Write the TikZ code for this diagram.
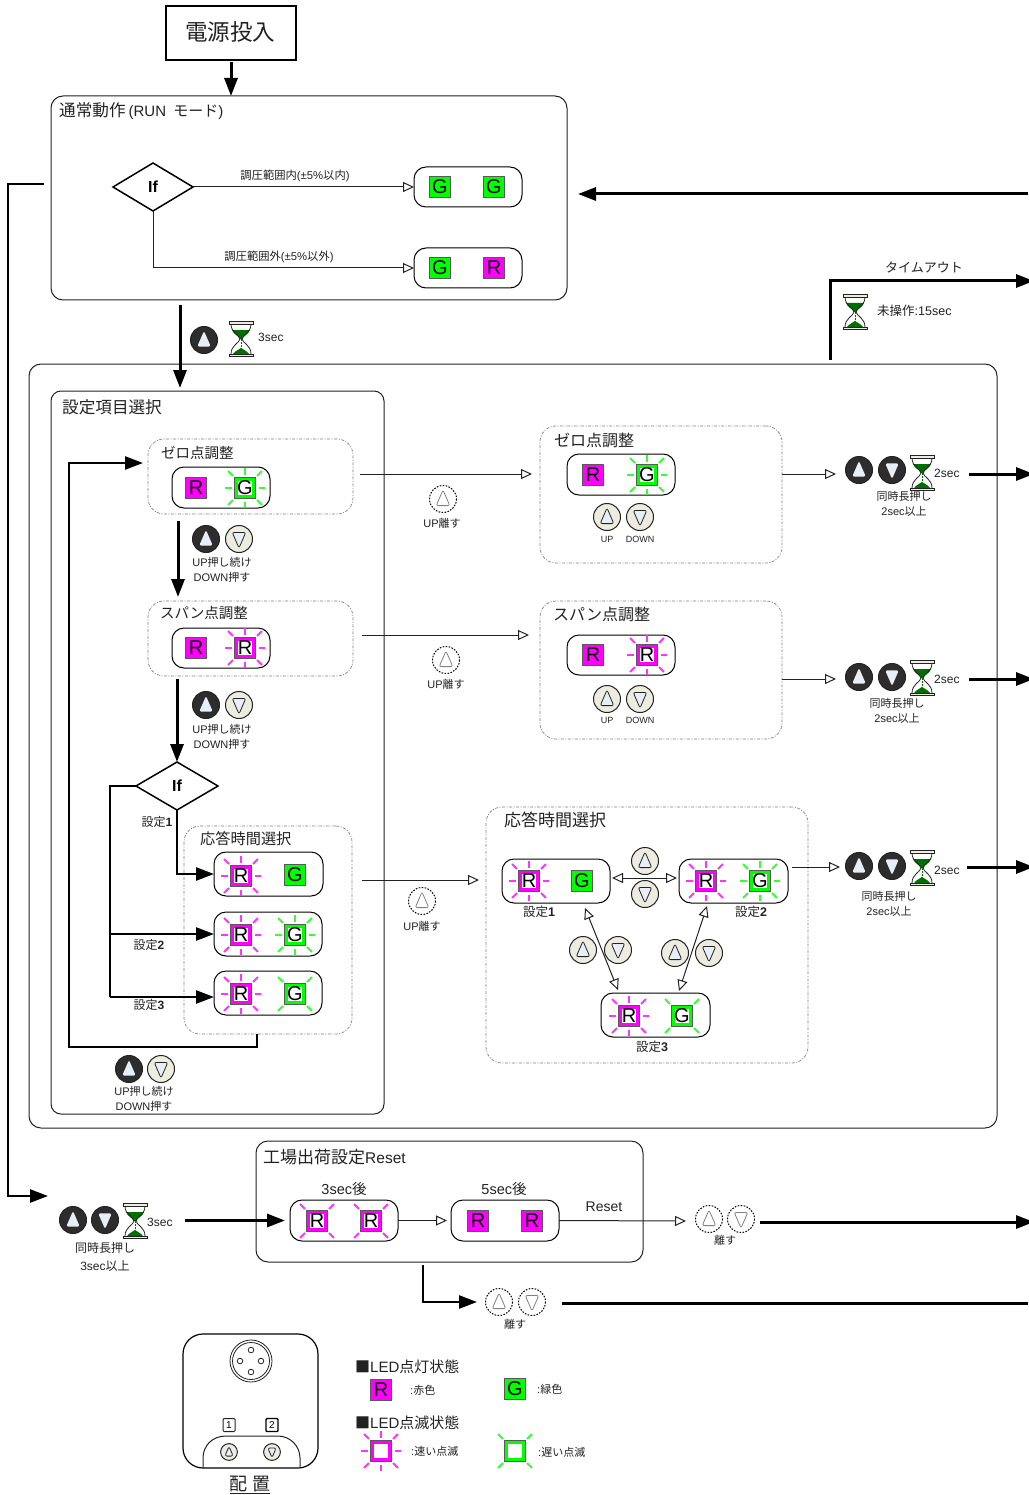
\documentclass[tikz,border=0pt]{standalone}
\usepackage{fontspec}
\setmainfont{Liberation Sans}
\newfontfamily\cjk{Noto Sans CJK JP}
\usetikzlibrary{arrows.meta,shapes.geometric,calc}
\definecolor{ledR}{HTML}{FF00FF}
\definecolor{ledG}{HTML}{00FF00}
\definecolor{rayR}{HTML}{FF33FF}
\definecolor{rayG}{HTML}{33FF33}
\definecolor{ink}{HTML}{222222}
\definecolor{hgreen}{HTML}{006E00}
\definecolor{capc}{HTML}{E8EDF6}
\definecolor{lightc}{HTML}{ECECE0}
\newcommand\J[1]{{\cjk #1}}
\newcommand\fs[1]{\fontsize{#1}{#1}\selectfont}
\tikzset{
 bigarr/.style={line width=3pt,draw=black,-{Triangle[length=18pt,width=13pt]}},
 midarr/.style={line width=2.5pt,draw=black,-{Triangle[length=18pt,width=13pt]}},
 bigline/.style={line width=3pt,draw=black},
 openarr/.style={line width=1pt,draw=ink,-{Triangle[open,fill=white,length=11pt,width=10pt]}},
 openboth/.style={line width=1pt,draw=ink,{Triangle[open,fill=white,length=11pt,width=10pt]}-{Triangle[open,fill=white,length=11pt,width=10pt]}},
 frame/.style={draw=ink,line width=1pt,rounded corners=12pt,inner sep=0pt,outer sep=0pt},
 dbox/.style={draw=gray,line width=.7pt,dash pattern=on 3pt off 1.5pt on 1pt off 1.5pt,rounded corners=16pt,inner sep=0pt,outer sep=0pt},
 panel/.style={draw=black,line width=1pt,rounded corners=12pt,inner sep=0pt,outer sep=0pt},
 hdr/.style={inner sep=0pt,anchor=west,text=ink,font=\fs{15}},
 sub/.style={inner sep=0pt,anchor=west,text=ink,font=\fs{14.5}},
 lab/.style={inner sep=0pt,text=ink,font=\fontsize{11}{15}\selectfont,align=center},
 tiny/.style={inner sep=0pt,text=ink,font=\fs{9}},
 dia/.style={diamond,draw=black,line width=1.5pt,inner sep=0pt,outer sep=0pt,aspect=1.67,font=\bfseries\fs{16}},
 btnd/.style={draw=ink,fill=ink!95,line width=1pt},
 btnl/.style={draw=ink,fill=lightc,line width=1pt},
 btng/.style={draw=black,fill=white,line width=1pt,dash pattern=on 1.6pt off 1.4pt},
 tri/.style={draw=none,fill=capc,rounded corners=2.2pt},
 tril/.style={draw=ink,fill=capc,line width=.8pt,rounded corners=2.2pt},
 trig/.style={draw=gray,fill=white,line width=.8pt,rounded corners=2.2pt},
 ledlet/.style={inner sep=0pt,text=black,font=\fs{20}},
}
\newcount\ledn
\newcommand\btn[5]{% x,y,circle style,tri style,dir (1 up, -1 down)
 \begin{scope}[shift={(#1,#2)}]
 \draw[#3] (0,0) circle (13.5);
 \path[#4] (0,-9*#5) -- (6.8,6.6*#5) -- (-6.8,6.6*#5) -- cycle;
 \end{scope}}
\newcommand\upd[2]{\btn{#1}{#2}{btnd}{tri}{1}}
\newcommand\dnd[2]{\btn{#1}{#2}{btnd}{tri}{-1}}
\newcommand\upl[2]{\btn{#1}{#2}{btnl}{tril}{1}}
\newcommand\dnl[2]{\btn{#1}{#2}{btnl}{tril}{-1}}
\newcommand\upg[2]{\btn{#1}{#2}{btng}{trig}{1}}
\newcommand\dng[2]{\btn{#1}{#2}{btng}{trig}{-1}}
\newcommand\hg[2]{%
 \begin{scope}[shift={(#1,#2)}]
 \fill[hgreen] (-9,-9) -- (9,-9) .. controls (8,-5) and (2,-3) .. (1,0) -- (-1,0) .. controls (-2,-3) and (-8,-5) .. (-9,-9) -- cycle;
 \fill[hgreen] (-8,15) .. controls (-5,11) and (-1,10.5) .. (0,8.5) .. controls (1,10.5) and (5,11) .. (8,15) -- cycle;
 \draw[ink,line width=.8pt,fill=none] (-10,-15) .. controls (-10,-6) and (-1.5,-4) .. (-1,0) .. controls (-1.5,4) and (-10,6) .. (-10,15);
 \draw[ink,line width=.8pt] (10,-15) .. controls (10,-6) and (1.5,-4) .. (1,0) .. controls (1.5,4) and (10,6) .. (10,15);
 \draw[hgreen,line width=1pt,dash pattern=on 1.5pt off 1.5pt] (0,0) -- (0,9);
 \draw[ink,fill=lightc,line width=.7pt] (-12,-17.5) rectangle (12,-15);
 \draw[ink,fill=lightc,line width=.7pt] (-12,15) rectangle (12,17.5);
 \end{scope}}
\newcommand\raysortho[1]{\foreach \a in {0,90,180,270} \draw[#1,line width=2pt] (\a:13.5) -- (\a:20);}
\newcommand\raysdiag[1]{\foreach \a in {45,135,225,315} \draw[#1,line width=2pt] (\a:17) -- (\a:24);}
\newcommand\ledS[4]{% x,y,colour,letter : steady
 \global\advance\ledn 1
 \begin{scope}[shift={(#1,#2)}]
 \draw[draw=ink!75,fill=#3,line width=1.4pt] (-10.5,-10.5) rectangle (10.5,10.5);
 \end{scope}
 \node[ledlet] (led\the\ledn) at (#1,#2) {#4};}
\newcommand\ledC[4]{% x,y,colour,letter : frame with white centre
 \global\advance\ledn 1
 \begin{scope}[shift={(#1,#2)}]
 \draw[draw=ink!75,fill=#3,line width=1.4pt] (-10.5,-10.5) rectangle (10.5,10.5);
 \fill[white] (-7,-7) rectangle (7,7);
 \end{scope}
 \node[ledlet] (led\the\ledn) at (#1,#2) {#4};}
\newcommand\ledF[5]{% fast: x,y,colour,raycolour,letter
 \begin{scope}[shift={(#1,#2)}]\raysortho{#4}\raysdiag{#4}\end{scope}
 \ledC{#1}{#2}{#3}{#5}}
\newcommand\ledL[5]{% slow
 \begin{scope}[shift={(#1,#2)}]\raysdiag{#4}\end{scope}
 \ledC{#1}{#2}{#3}{#5}}
\newcommand\bx[6]{%
 \pgfmathsetmacro\cxx{(#3+#5)/2}\pgfmathsetmacro\cyy{(#4+#6)/2}%
 \pgfmathsetmacro\www{#5-#3}\pgfmathsetmacro\hhh{#6-#4}%
 \node[#1,minimum width=\www pt,minimum height=\hhh pt] (#2) at (\cxx,\cyy) {};}
\begin{document}
\begin{tikzpicture}[x=1pt,y=-1pt]
\useasboundingbox (0,0) rectangle (1028,1495);
% ---------- power on
\bx{draw=black,line width=1.6pt,inner sep=0pt,outer sep=0pt}{pwr}{166}{6}{296}{60}
\node[inner sep=0pt,text=ink,font=\fs{22.5}] (pwrt) at (230,32) {\J{電源投入}};
% ---------- RUN
\bx{frame}{run}{51}{96}{567}{300}
\node[hdr,font=\fs{15}] (runt) at (59,111) {\fs{16.6}\J{通常動作}\hspace{3pt}\fs{15}(RUN\hspace{3pt} \J{モード})};
\draw[bigarr] (pwr.south) ++(0,2) -- (pwr.south |- run.north);
\node[dia,minimum width=80pt,minimum height=48pt] (if1) at (153,187) {If};
\bx{panel}{p1}{414}{167}{522}{207}
\bx{panel}{p2}{414}{248}{522}{288}
\ledS{440}{187}{ledG}{G}\ledS{494}{187}{ledG}{G}
\ledS{440}{268}{ledG}{G}\ledS{494}{268}{ledR}{R}
\draw[openarr] (if1.east) -- (p1.west);
\draw[openarr] (if1.south) -- (if1.south |- p2.west) -- (p2.west);
\node[lab,font=\fs{11.3}] (l1) at (295,176) {\J{調圧範囲内}(±5\%\J{以内})};
\node[lab,font=\fs{11.3}] (l2) at (279,257) {\J{調圧範囲外}(±5\%\J{以外})};
% factory feed line
\coordinate (la) at (44,184); \coordinate (lb) at (8,184); \coordinate (lc) at (8,1196); \coordinate (ld) at (48,1196);
\draw[midarr] (la) -- (lb) -- (lc) -- (ld);
% return arrow
\coordinate (ra) at (1028,194); \coordinate (rb) at (578,194);
\draw[bigarr] (ra) -- (rb);
% ---------- main box
\bx{frame}{main}{29}{364}{997}{1128}
\coordinate (ma) at (180,305); \coordinate (mb) at (180,388);
\draw[bigarr] (ma) -- (mb);
\upd{204}{340}\hg{241}{339}
\node[lab,anchor=west,font=\fs{12}] (t3) at (258,337) {3sec};
% timeout
\coordinate (ta) at (830,360); \coordinate (tb) at (830,281); \coordinate (tc) at (1034,281);
\draw[bigarr] (ta) -- (tb) -- (tc);
\node[inner sep=0pt,text=ink,font=\fs{13}] (tt) at (924,267) {\J{タイムアウト}};
\hg{855}{312}
\node[lab,anchor=west,font=\fs{12.5}] (tu) at (877,311) {\J{未操作}:15sec};
% ---------- left column
\bx{frame,rounded corners=10pt}{sel}{51}{391}{384}{1114}
\node[hdr,font=\fs{16.6}] (selt) at (62,407) {\J{設定項目選択}};
\bx{dbox}{z1}{148}{439}{353}{514}
\node[sub] (z1t) at (161,453) {\J{ゼロ点調整}};
\bx{panel}{z1p}{172}{467}{270}{508}
\ledS{196}{488}{ledR}{R}\ledF{245}{488}{ledG}{rayG}{G}
\coordinate (a1) at (178,521); \coordinate (a2) at (178,597);
\draw[bigarr] (a1) -- (a2);
\upd{206}{539}\dnl{239}{539}
\node[lab] (z1k) at (222,570) {UP\J{押し続け}\\DOWN\J{押す}};
\bx{dbox}{s1}{148}{601}{353}{676}
\node[sub] (s1t) at (160,613) {\J{スパン点調整}};
\bx{panel}{s1p}{172}{628}{270}{668}
\ledS{196}{648}{ledR}{R}\ledF{245}{648}{ledR}{rayR}{R}
\coordinate (a3) at (177,679);
\node[dia,minimum width=82pt,minimum height=48pt] (if2) at (177,786) {If};
\draw[bigarr] (a3) -- (a3 |- if2.north);
\upd{206}{705}\dnl{239}{705}
\node[lab] (s1k) at (222,737) {UP\J{押し続け}\\DOWN\J{押す}};
\bx{dbox}{rt}{184}{826}{352}{1034}
\node[sub,font=\fs{15.2}] (rtt) at (200,839) {\J{応答時間選択}};
\bx{panel}{r1}{214}{852}{323}{896}
\bx{panel}{r2}{214}{912}{322}{956}
\bx{panel}{r3}{214}{971}{322}{1015}
\ledF{241}{876}{ledR}{rayR}{R}\ledS{295}{875}{ledG}{G}
\ledF{241}{935}{ledR}{rayR}{R}\ledF{295}{935}{ledG}{rayG}{G}
\ledF{241}{994}{ledR}{rayR}{R}\ledL{295}{994}{ledG}{rayG}{G}
\coordinate (b2) at (110,934); \coordinate (b3) at (110,997);
\draw[midarr,-] (if2.west) -- (if2.west -| b3) -- (b3);
\draw[midarr] (b3) -- (b3 -| r3.west);
\draw[midarr] (b2) -- (b2 -| r2.west);
\draw[midarr] (if2.south) -- (if2.south |- r1.west) -- (r1.west);
\node[lab,font=\fs{12}] (c1) at (157,822) {\J{設定}\textbf{1}};
\node[lab,font=\fs{12}] (c2) at (149,945) {\J{設定}\textbf{2}};
\node[lab,font=\fs{12}] (c3) at (149,1005) {\J{設定}\textbf{3}};
\coordinate (d1) at (257,1034); \coordinate (d2) at (257,1047); \coordinate (d3) at (69,1047); \coordinate (d4) at (69,463); \coordinate (d5) at (143,463);
\draw[midarr] (d1) -- (d2) -- (d3) -- (d4) -- (d5);
\upd{129}{1069}\dnl{161}{1069}
\node[lab] (rtk) at (144,1099) {UP\J{押し続け}\\DOWN\J{押す}};
% ---------- zero detail
\bx{dbox}{z2}{540}{426}{782}{563}
\node[sub,font=\fs{16}] (z2t) at (554,440) {\J{ゼロ点調整}};
\bx{panel}{z2p}{567}{454}{675}{495}
\ledS{593}{475}{ledR}{R}\ledF{647}{475}{ledG}{rayG}{G}
\upl{607}{517}\dnl{640}{517}
\node[tiny] (z2u) at (607,539) {UP};\node[tiny] (z2d) at (640,539) {DOWN};
\coordinate (e1) at (360,474); \coordinate (e2) at (532,474);
\draw[openarr] (e1) -- (e2);
\upg{443}{499}\node[lab] (e3) at (442,523) {UP\J{離す}};
\coordinate (e4) at (782,474); \coordinate (e5) at (836,474);
\draw[openarr] (e4) -- (e5);
\upd{859}{470}\dnd{892}{470}\hg{922}{473}
\node[lab,anchor=west,font=\fs{12}] (e6) at (934,473) {2sec};
\node[lab] (e7) at (904,504) {\J{同時長押し}\\2sec\J{以上}};
\coordinate (e8) at (969,474); \coordinate (e9) at (1034,474);
\draw[bigarr] (e8) -- (e9);
% ---------- span detail
\bx{dbox}{s2}{540}{601}{782}{739}
\node[sub,font=\fs{16}] (s2t) at (553,614) {\J{スパン点調整}};
\bx{panel}{s2p}{567}{635}{675}{675}
\ledS{593}{655}{ledR}{R}\ledF{647}{655}{ledR}{rayR}{R}
\upl{607}{699}\dnl{640}{699}
\node[tiny] (s2u) at (607,720) {UP};\node[tiny] (s2d) at (640,720) {DOWN};
\coordinate (f1) at (362,635); \coordinate (f2) at (529,635);
\draw[openarr] (f1) -- (f2);
\upg{446}{660}\node[lab] (f3) at (446,684) {UP\J{離す}};
\coordinate (f4) at (782,679); \coordinate (f5) at (836,679);
\draw[openarr] (f4) -- (f5);
\upd{859}{677}\dnd{892}{677}\hg{922}{678}
\node[lab,anchor=west,font=\fs{12}] (f6) at (934,679) {2sec};
\node[lab] (f7) at (897,711) {\J{同時長押し}\\2sec\J{以上}};
\coordinate (f8) at (969,679); \coordinate (f9) at (1034,679);
\draw[bigarr] (f8) -- (f9);
% ---------- response detail
\bx{dbox}{q}{486}{807}{808}{1063}
\node[sub,font=\fs{17}] (qt) at (504,820) {\J{応答時間選択}};
\bx{panel}{q1}{502}{859}{610}{903}
\bx{panel}{q2}{679}{859}{788}{903}
\bx{panel}{q3}{601}{993}{710}{1037}
\ledF{529}{881}{ledR}{rayR}{R}\ledS{582}{881}{ledG}{G}
\ledF{706}{881}{ledR}{rayR}{R}\ledF{760}{881}{ledG}{rayG}{G}
\ledF{629}{1016}{ledR}{rayR}{R}\ledL{682}{1016}{ledG}{rayG}{G}
\node[lab,font=\fs{12.5}] (q1t) at (539,912) {\J{設定}\textbf{1}};
\node[lab,font=\fs{12.5}] (q2t) at (751,912) {\J{設定}\textbf{2}};
\node[lab,font=\fs{12.5}] (q3t) at (652,1047) {\J{設定}\textbf{3}};
\coordinate (g1) at (612,878); \coordinate (g2) at (677,878);
\draw[openboth] (g1) -- (g2);
\upl{645}{861}\dnl{645}{894}
\coordinate (g3) at (585,908); \coordinate (g4) at (618,990);
\draw[openboth] (g3) -- (g4);
\upl{583}{950}\dnl{618}{950}
\coordinate (g5) at (707,906); \coordinate (g6) at (679,991);
\draw[openboth] (g5) -- (g6);
\upl{675}{953}\dnl{709}{953}
\coordinate (h1) at (792,867); \coordinate (h2) at (840,867);
\draw[openarr] (h1) -- (h2);
\upg{422}{901}\node[lab] (h3) at (422,926) {UP\J{離す}};
\coordinate (h4) at (362,880); \coordinate (h5) at (479,880);
\draw[openarr] (h4) -- (h5);
\upd{859}{866}\dnd{892}{866}\hg{922}{868}
\node[lab,anchor=west,font=\fs{12}] (h6) at (934,870) {2sec};
\node[lab] (h7) at (889,904) {\J{同時長押し}\\2sec\J{以上}};
\coordinate (h8) at (967,867); \coordinate (h9) at (1034,867);
\draw[bigarr] (h8) -- (h9);
% ---------- factory reset
\bx{frame}{fac}{256}{1141}{643}{1262}
\node[hdr,font=\fs{15.5}] (fact) at (263,1157) {\fs{17}\J{工場出荷設定}\fs{15.5}Reset};
\bx{panel}{fa}{290}{1200}{398}{1241}
\bx{panel}{fb}{451}{1200}{559}{1241}
\ledL{317}{1221}{ledR}{rayR}{R}\ledL{371}{1221}{ledR}{rayR}{R}
\ledS{478}{1221}{ledR}{R}\ledS{532}{1221}{ledR}{R}
\node[lab,font=\fs{14.5}] (ft1) at (344,1189) {3sec\J{後}};
\node[lab,font=\fs{14.5}] (ft2) at (504,1189) {5sec\J{後}};
\node[lab,font=\fs{14}] (ft3) at (604,1207) {Reset};
\draw[openarr] (fa.east) -- ([xshift=-4pt]fb.west);
\coordinate (fc) at (686,1221);
\draw[openarr] (fb.east) -- (fc);
\upg{709}{1219}\dng{741}{1219}
\node[lab] (ft4) at (725,1240) {\J{離す}};
\coordinate (fd) at (760,1222); \coordinate (fe) at (1034,1222);
\draw[bigarr] (fd) -- (fe);
\upd{73}{1220}\dnd{105}{1220}\hg{135}{1221}
\node[lab,anchor=west,font=\fs{12}] (ft5) at (147,1222) {3sec};
\node[lab,font=\fontsize{12}{18}\selectfont] (ft6) at (105,1257) {\J{同時長押し}\\3sec\J{以上}};
\coordinate (ff) at (185,1220.5);
\draw[bigarr] (ff) -- ([xshift=-5pt]fa.west);
\coordinate (fg) at (423,1265); \coordinate (fh) at (423,1302); \coordinate (fi) at (477,1302);
\draw[midarr] (fg) -- (fh) -- (fi);
\upg{499}{1302}\dng{532}{1302}
\node[lab] (ft7) at (515,1324) {\J{離す}};
\coordinate (fj) at (562,1303); \coordinate (fk) at (1028,1303);
\draw[bigline] (fj) -- (fk);
% ---------- device
\bx{draw=black,line width=1.2pt,rounded corners=20pt,inner sep=0pt,outer sep=0pt}{dev}{183}{1334}{318}{1468}
\draw[ink,line width=.8pt] (251,1361) circle (21);
\draw[ink,line width=.8pt] (251,1361) circle (18.5);
\foreach \p in {(251,1350),(251,1372),(240,1361),(261,1361)} \draw[ink,line width=.8pt] \p circle (2.8);
\node[draw=ink,line width=1pt,rounded corners=1pt,inner sep=0pt,minimum width=12pt,minimum height=13pt,font=\fs{10}] (n1) at (229,1425) {1};
\node[draw=black,line width=1.4pt,rounded corners=1pt,inner sep=0pt,minimum width=12pt,minimum height=13pt,font=\fs{10}] (n2) at (272,1425) {2};
\draw[ink,line width=1pt] (203,1468) -- (203,1458) .. controls (203,1446) and (212,1436) .. (226,1436) -- (278,1436) .. controls (290,1436) and (300,1446) .. (300,1458) -- (300,1468);
\begin{scope}[shift={(229,1452)},scale=.62]\draw[btnl] (0,0) circle (13.5);\path[tril] (0,-9) -- (6.8,6.6) -- (-6.8,6.6) -- cycle;\end{scope}
\begin{scope}[shift={(272,1452)},scale=.62]\draw[btnl] (0,0) circle (13.5);\path[tril] (0,9) -- (6.8,-6.6) -- (-6.8,-6.6) -- cycle;\end{scope}
\node[inner sep=0pt,text=ink,font=\fs{18}] (devt) at (250,1485) {\underline{\J{配 置}}};
% ---------- legend
\node[hdr] (leg1) at (355,1367) {\J{■}LED\J{点灯状態}};
\node[hdr] (leg2) at (355,1423) {\J{■}LED\J{点滅状態}};
\ledS{381}{1390}{ledR}{R}\ledS{515}{1389}{ledG}{G}
\ledF{381}{1451}{ledR}{rayR}{}\ledL{515}{1451}{ledG}{rayG}{}
\node[lab,anchor=west] (leg3) at (410,1390) {:\J{赤色}};
\node[lab,anchor=west] (leg4) at (537,1389) {:\J{緑色}};
\node[lab,anchor=west] (leg5) at (411,1451) {:\J{速い点滅}};
\node[lab,anchor=west] (leg6) at (538,1452) {:\J{遅い点滅}};
\end{tikzpicture}
\end{document}
